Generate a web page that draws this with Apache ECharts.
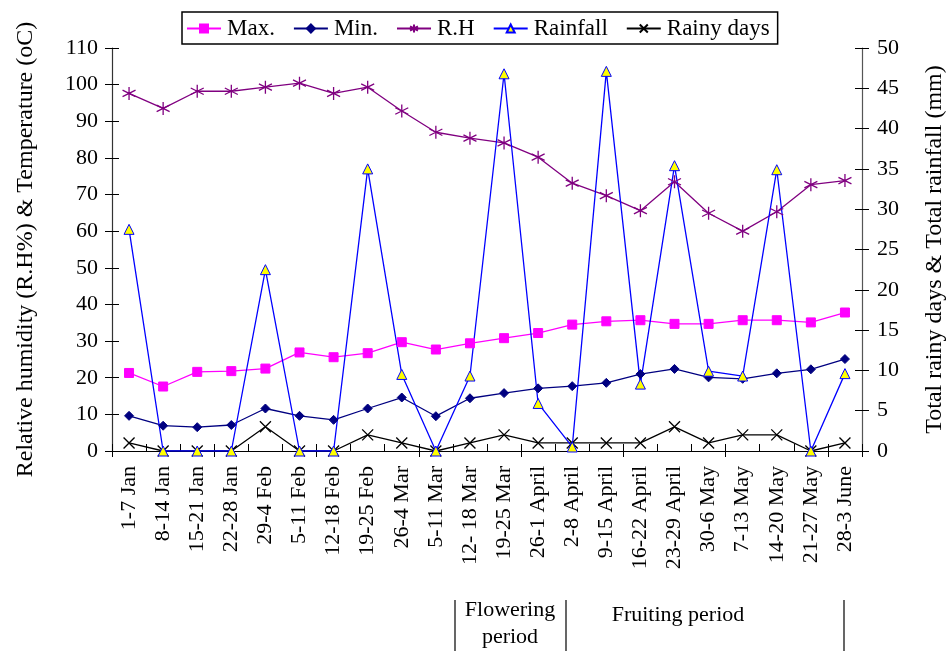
<!DOCTYPE html>
<html>
<head>
<meta charset="utf-8">
<script src="https://cdn.jsdelivr.net/npm/echarts@6/dist/echarts.min.js"></script>
<style>
  html, body { margin: 0; padding: 0; background: #fff; }
  #chart { width: 946px; height: 651px; }
</style>
</head>
<body>
<div id="chart"></div>
<script>
const weeks = ['1-7 Jan', '8-14 Jan', '15-21 Jan', '22-28 Jan', '29-4 Feb', '5-11 Feb', '12-18 Feb',
  '19-25 Feb', '26-4 Mar', '5-11 Mar', '12- 18 Mar', '19-25 Mar', '26-1 April', '2-8 April',
  '9-15 April', '16-22 April', '23-29 April', '30-6 May', '7-13 May', '14-20 May', '21-27 May', '28-3 June'];
// left axis: temperature (oC) and relative humidity (%)
const maxTemp = [21.3, 17.6, 21.6, 21.8, 22.5, 26.9, 25.6, 26.7, 29.7, 27.7, 29.4, 30.8, 32.2, 34.5, 35.4, 35.7, 34.7, 34.7, 35.7, 35.7, 35.1, 37.8];
const minTemp = [9.6, 6.9, 6.5, 7.1, 11.6, 9.6, 8.5, 11.6, 14.6, 9.5, 14.4, 15.8, 17.1, 17.7, 18.6, 21.0, 22.4, 20.1, 19.7, 21.2, 22.3, 25.1];
const relHum = [97.6, 93.5, 98.2, 98.2, 99.3, 100.4, 97.6, 99.3, 92.8, 87.0, 85.4, 84.1, 80.2, 73.1, 69.7, 65.6, 73.5, 64.9, 60.0, 65.3, 72.7, 73.8];
// right axis: rainfall (mm) and rainy days
const rainfall = [27.5, 0, 0, 0, 22.5, 0, 0, 35.0, 9.5, 0, 9.3, 46.8, 5.9, 0.5, 47.1, 8.3, 35.4, 9.9, 9.3, 34.9, 0, 9.6];
const rainyDays = [1, 0, 0, 0, 3, 0, 0, 2, 1, 0, 1, 2, 1, 1, 1, 1, 3, 1, 2, 2, 0, 1];

const serif = 'Liberation Serif';
const asterisk = 'path://M0,-6L0,6M-5.2,-3L5.2,3M-5.2,3L5.2,-3';
const cross = 'path://M-5,-5L5,5M-5,5L5,-5';

const chart = echarts.init(document.getElementById('chart'));

function lineSeries(name, data, color, yIdx, symbol, size, fill, extra) {
  return Object.assign({
    name: name,
    type: 'line',
    data: data,
    yAxisIndex: yIdx,
    symbol: symbol,
    symbolSize: size,
    showAllSymbol: true,
    animation: false,
    lineStyle: { color: color, width: 1.3 },
    itemStyle: { color: fill, borderColor: color, borderWidth: 1 }
  }, extra || {});
}

chart.setOption({
  animation: false,
  grid: { left: 112, right: 84, top: 48, bottom: 200, outerBoundsMode: 'none', containLabel: false },
  legend: {
    left: 182, top: 12,
    padding: [5, 8, 4, 4],
    itemGap: 18,
    itemWidth: 34, itemHeight: 10,
    borderColor: '#000', borderWidth: 1.5,
    textStyle: { fontFamily: serif, fontSize: 23, color: '#000', padding: [0, 0, 0, 1] },
    data: ['Max.', 'Min.', 'R.H', 'Rainfall', 'Rainy days']
  },
  xAxis: [{
    type: 'category',
    data: weeks,
    boundaryGap: true,
    axisLine: { lineStyle: { color: '#000', width: 1.2 } },
    axisTick: { show: true, inside: true, length: 7, lineStyle: { color: '#000' } },
    axisLabel: { interval: 0, rotate: 90, margin: 15, fontFamily: serif, fontSize: 22, color: '#000' }
  }, {
    type: 'category',
    data: weeks,
    position: 'bottom',
    boundaryGap: true,
    axisLine: { show: false },
    axisTick: { show: true, length: 6, lineStyle: { color: '#000' } },
    axisLabel: { show: false }
  }],
  yAxis: [{
    type: 'value', min: 0, max: 110, interval: 10, position: 'left',
    name: 'Relative humidity (R.H%) & Temperature (oC)',
    nameLocation: 'middle', nameGap: 74, nameRotate: 90,
    nameTextStyle: { fontFamily: serif, fontSize: 24, color: '#000' },
    splitLine: { show: false },
    axisLine: { show: true, lineStyle: { color: '#333', width: 1.2 } },
    axisTick: { show: true, length: 7, lineStyle: { color: '#000' } },
    axisLabel: { margin: 14, fontFamily: serif, fontSize: 22, color: '#000' }
  }, {
    type: 'value', min: 0, max: 50, interval: 5, position: 'right',
    name: 'Total rainy days & Total rainfall (mm)',
    nameLocation: 'middle', nameGap: 61, nameRotate: 90,
    nameTextStyle: { fontFamily: serif, fontSize: 24, color: '#000' },
    splitLine: { show: false },
    axisLine: { show: true, lineStyle: { color: '#555', width: 1.2 } },
    axisTick: { show: true, length: 7, lineStyle: { color: '#000' } },
    axisLabel: { margin: 15, fontFamily: serif, fontSize: 22, color: '#000' }
  }, {
    type: 'value', min: 0, max: 110, interval: 10, position: 'left',
    splitLine: { show: false }, axisLine: { show: false },
    axisTick: { show: true, inside: true, length: 7, lineStyle: { color: '#000' } },
    axisLabel: { show: false }
  }, {
    type: 'value', min: 0, max: 50, interval: 5, position: 'right',
    splitLine: { show: false }, axisLine: { show: false },
    axisTick: { show: true, inside: true, length: 7, lineStyle: { color: '#000' } },
    axisLabel: { show: false }
  }],
  series: [
    lineSeries('Max.', maxTemp, '#FF00FF', 0, 'rect', 9, '#FF00FF'),
    lineSeries('Min.', minTemp, '#000080', 0, 'diamond', 9, '#000080'),
    lineSeries('R.H', relHum, '#800080', 0, asterisk, 13, 'none', { itemStyle: { color: 'none', borderColor: '#800080', borderWidth: 1.3 } }),
    lineSeries('Rainy days', rainyDays, '#000000', 1, cross, 11, 'none', { itemStyle: { color: 'none', borderColor: '#000', borderWidth: 1.3 } }),
    lineSeries('Rainfall', rainfall, '#0000FF', 1, 'triangle', 10, '#FFFF00')
  ],
  graphic: [
    { type: 'line', shape: { x1: 455, y1: 600, x2: 455, y2: 651 }, style: { stroke: '#000', lineWidth: 1.2 } },
    { type: 'line', shape: { x1: 566, y1: 600, x2: 566, y2: 651 }, style: { stroke: '#000', lineWidth: 1.2 } },
    { type: 'line', shape: { x1: 844, y1: 600, x2: 844, y2: 651 }, style: { stroke: '#000', lineWidth: 1.2 } },
    { type: 'text', x: 510, y: 610, style: { text: 'Flowering', font: '22px "Liberation Serif"', fill: '#000', textAlign: 'center', textVerticalAlign: 'middle' } },
    { type: 'text', x: 510, y: 637, style: { text: 'period', font: '22px "Liberation Serif"', fill: '#000', textAlign: 'center', textVerticalAlign: 'middle' } },
    { type: 'text', x: 678, y: 615, style: { text: 'Fruiting period', font: '22px "Liberation Serif"', fill: '#000', textAlign: 'center', textVerticalAlign: 'middle' } }
  ]
});
</script>
</body>
</html>
